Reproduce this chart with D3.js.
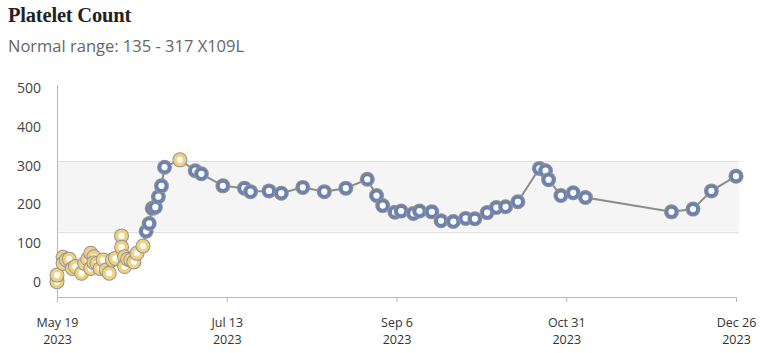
<!DOCTYPE html>
<html>
<head>
<meta charset="utf-8">
<script src="https://cdn.jsdelivr.net/npm/d3@7"></script>
<style>
  body { margin: 0; background: #fff; }
  svg { display: block; }
</style>
</head>
<body>
<div id="chart"></div>
<script>
// readings of the platelet count, in order
var dates = [
  '2023-05-19', '2023-05-19', '2023-05-21', '2023-05-21', '2023-05-22', '2023-05-23',
  '2023-05-24', '2023-05-25', '2023-05-27', '2023-05-28', '2023-05-29', '2023-05-30',
  '2023-05-30', '2023-05-31', '2023-05-31', '2023-06-01', '2023-06-02', '2023-06-03',
  '2023-06-04', '2023-06-05', '2023-06-06', '2023-06-07', '2023-06-09', '2023-06-09',
  '2023-06-10', '2023-06-10', '2023-06-11', '2023-06-12', '2023-06-13', '2023-06-14',
  '2023-06-16', '2023-06-17', '2023-06-18', '2023-06-19', '2023-06-20', '2023-06-21',
  '2023-06-22', '2023-06-23', '2023-06-28', '2023-07-03', '2023-07-05', '2023-07-12',
  '2023-07-19', '2023-07-21', '2023-07-27', '2023-07-31', '2023-08-07', '2023-08-14',
  '2023-08-21', '2023-08-28', '2023-08-31', '2023-09-02', '2023-09-06', '2023-09-08',
  '2023-09-12', '2023-09-14', '2023-09-18', '2023-09-21', '2023-09-25', '2023-09-29',
  '2023-10-02', '2023-10-06', '2023-10-09', '2023-10-12', '2023-10-16', '2023-10-23',
  '2023-10-25', '2023-10-26', '2023-10-30', '2023-11-03', '2023-11-07', '2023-12-05',
  '2023-12-12', '2023-12-18', '2023-12-26'
];
var values = [
  6, 23, 69, 53, 62, 64,
  40, 45, 28, 53, 64, 40,
  79, 70, 55, 53, 40, 62,
  36, 28, 62, 66, 124, 95,
  70, 45, 64, 62, 57, 79,
  98, 136, 156, 195, 198, 225,
  253, 301, 320, 292, 284, 253,
  247, 238, 240, 234, 249, 238,
  247, 270, 228, 202, 185, 188,
  182, 188, 186, 163, 161, 169,
  168, 184, 197, 199, 212, 298,
  292, 269, 228, 235, 223, 186,
  193, 240, 278
];
var normalRange = [135, 317];
var yTicks = [0, 100, 200, 300, 400, 500];
var xDomain = ['2023-05-19', '2023-12-26'];

var width = 768, height = 353;
var parse = d3.timeParse('%Y-%m-%d');
var data = dates.map(function (d, i) { return { date: parse(d), value: values[i] }; });

var svg = d3.select('#chart').append('svg')
  .attr('width', width)
  .attr('height', height);

// title + subtitle
svg.append('text')
  .attr('x', 8).attr('y', 22)
  .style('font-family', '"Liberation Serif", "DejaVu Serif", serif')
  .style('font-weight', 'bold')
  .style('font-size', '20.5px')
  .style('letter-spacing', '-0.2px')
  .style('fill', '#222')
  .text('Platelet Count');

svg.append('text')
  .attr('x', 8).attr('y', 52)
  .style('font-family', '"Open Sans", sans-serif')
  .style('font-size', '16.5px')
  .style('fill', '#666')
  .text('Normal range: ' + normalRange[0] + ' - ' + normalRange[1] + ' X109L');

var x = d3.scaleTime()
  .domain(xDomain.map(parse))
  .range([57, 736]);

var y = d3.scaleLinear()
  .domain([0, 500])
  .range([284, 90]);

var axisColor = '#a9bccd';

// normal range band
svg.append('rect')
  .attr('x', x.range()[0])
  .attr('y', y(normalRange[1]))
  .attr('width', 739 - x.range()[0])
  .attr('height', y(normalRange[0]) - y(normalRange[1]))
  .attr('fill', '#f5f5f5');

svg.selectAll('.band-line')
  .data(normalRange)
  .enter()
  .append('line')
  .attr('x1', x.range()[0])
  .attr('x2', 739)
  .attr('y1', function (d) { return Math.round(y(d)) + 0.5; })
  .attr('y2', function (d) { return Math.round(y(d)) + 0.5; })
  .attr('stroke', '#e0e0e0')
  .attr('stroke-width', 1);

// y axis labels (no tick lines)
var yAxis = svg.append('g')
  .attr('transform', 'translate(41,-2)')
  .call(d3.axisLeft(y).tickValues(yTicks).tickSize(0).tickPadding(0));
yAxis.select('.domain').remove();
yAxis.selectAll('text')
  .style('font-family', '"Open Sans", sans-serif')
  .style('font-size', '14px')
  .style('fill', '#444');

// y axis line
svg.append('line')
  .attr('x1', 57.5).attr('x2', 57.5)
  .attr('y1', 85).attr('y2', 297)
  .attr('stroke', axisColor)
  .attr('stroke-width', 1);

// x axis: domain split in four equal parts
var t0 = x.domain()[0].getTime(), t1 = x.domain()[1].getTime();
var xTicks = d3.range(5).map(function (i) { return new Date(t0 + (t1 - t0) * i / 4); });

var xAxis = svg.append('g')
  .attr('transform', 'translate(0,297)')
  .call(d3.axisBottom(x).tickValues(xTicks).tickSize(5).tickFormat(''));
xAxis.select('.domain').attr('stroke', axisColor);
xAxis.selectAll('.tick line').attr('stroke', axisColor);

var monthDay = d3.timeFormat('%b %-d'), year = d3.timeFormat('%Y');
var tick = xAxis.selectAll('.tick');
tick.append('text')
  .attr('text-anchor', 'middle')
  .attr('y', 30)
  .style('font-family', '"Open Sans", sans-serif')
  .style('font-size', '12.5px')
  .style('fill', '#333')
  .text(function (d) { return monthDay(d); });
tick.append('text')
  .attr('text-anchor', 'middle')
  .attr('y', 47)
  .style('font-family', '"Open Sans", sans-serif')
  .style('font-size', '12.5px')
  .style('fill', '#333')
  .text(function (d) { return year(d); });

// line
var line = d3.line()
  .x(function (d) { return x(d.date); })
  .y(function (d) { return y(d.value); });

svg.append('path')
  .datum(data)
  .attr('d', line)
  .attr('fill', 'none')
  .attr('stroke', '#8c8c8c')
  .attr('stroke-width', 2);

// points: yellow outside the normal range, blue inside
function pointColor(v) {
  return (v < normalRange[0] || v > normalRange[1]) ? '#efd17f' : '#6b82b1';
}

var pts = svg.selectAll('.pt')
  .data(data)
  .enter()
  .append('g')
  .attr('class', 'pt')
  .attr('transform', function (d) { return 'translate(' + x(d.date) + ',' + y(d.value) + ')'; });

pts.append('circle')
  .attr('r', 7.5)
  .attr('fill', '#939393');

pts.append('circle')
  .attr('r', 4.8)
  .attr('fill', '#fff')
  .attr('stroke', function (d) { return pointColor(d.value); })
  .attr('stroke-width', 3.4);
</script>
</body>
</html>
